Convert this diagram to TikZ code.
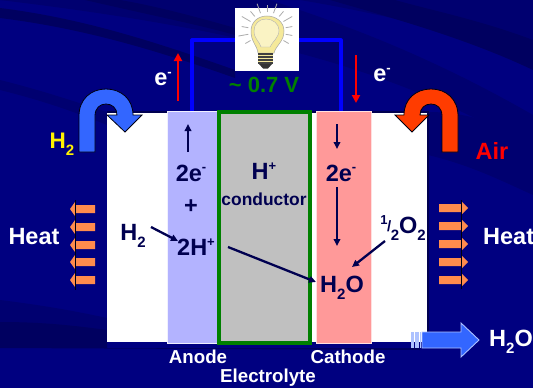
\documentclass[tikz,border=0pt]{standalone}
\usepackage{fontspec}
\setmainfont{Liberation Sans}
\usetikzlibrary{arrows.meta}
\definecolor{bgbase}{HTML}{000080}
\definecolor{bgdark}{HTML}{000070}
\definecolor{bgdeep}{HTML}{000060}
\definecolor{ink}{HTML}{000050}
\definecolor{anodec}{HTML}{B3B3FF}
\definecolor{cathc}{HTML}{FF9999}
\definecolor{electc}{HTML}{C0C0C0}
\definecolor{greenc}{HTML}{008000}
\definecolor{wirec}{HTML}{0000FF}
\definecolor{bluearrow}{HTML}{3366FF}
\definecolor{orangearrow}{HTML}{FF3C00}
\definecolor{heatc}{HTML}{FF8C4D}
\definecolor{bulbc}{HTML}{F5E99A}
\definecolor{bulbin}{HTML}{FAF3C4}
\newcommand{\up}[1]{\raisebox{0.40em}{\fontsize{13}{13}\selectfont #1}}
\newcommand{\dn}[1]{\raisebox{-0.30em}{\fontsize{15}{15}\selectfont #1}}
\tikzset{
  x=1pt,y=-1pt,
  lab/.style={font=\fontsize{#1}{#1}\selectfont\bfseries,inner sep=0pt},
  lab/.default=23.5,
  wht/.style={lab=#1,text=white},
  wht/.default=23.5,
  inkl/.style={lab=#1,text=ink},
  inkl/.default=23.5,
  wire/.style={draw=wirec,line width=3.2pt,line join=round},
  ethin/.style={-{Triangle[length=8pt,width=8pt]},red,line width=2.8pt},
  inkarrow/.style={-{Triangle[length=7pt,width=6.5pt]},ink,line width=2.3pt},
  box/.style={inner sep=0pt,outer sep=0pt,anchor=north west},
}
\newcommand{\heatleft}[1]{\fill[heatc] (95,#1-4) -- (75,#1-4) -- (75,#1-7) -- (70,#1) -- (75,#1+7) -- (75,#1+4) -- (95,#1+4) -- cycle;}
\newcommand{\heatright}[1]{\fill[heatc] (439,#1-4) -- (461,#1-4) -- (461,#1-7) -- (468,#1) -- (461,#1+7) -- (461,#1+4) -- (439,#1+4) -- cycle;}
\begin{document}
\begin{tikzpicture}
\useasboundingbox (0,0) rectangle (533,388);
% background
\fill[bgbase] (0,0) rectangle (533,388);
\fill[bgdark] (0,0) -- (533,0) -- (533,55) .. controls (430,25) and (360,10) .. (300,0) -- cycle;
\fill[bgdark] (0,0) -- (270,0) .. controls (330,20) and (420,50) .. (533,115) -- (533,150) .. controls (400,70) and (250,30) .. (0,0) -- cycle;
\fill[bgdeep] (0,8) .. controls (80,18) and (150,40) .. (235,70) -- (235,78) .. controls (150,48) and (80,28) .. (0,18) -- cycle;
\fill[bgdeep] (85,0) .. controls (150,15) and (200,25) .. (235,35) -- (235,28) .. controls (190,15) and (150,5) .. (120,0) -- cycle;
\fill[bgdark] (0,80) .. controls (40,90) and (70,100) .. (107,112) -- (107,125) .. controls (70,110) and (40,100) .. (0,90) -- cycle;
\fill[bgdeep] (330,0) .. controls (400,20) and (470,40) .. (533,70) -- (533,40) .. controls (480,20) and (430,10) .. (395,0) -- cycle;
\fill[bgdark] (0,300) .. controls (40,305) and (70,310) .. (107,318) -- (107,344) -- (0,344) -- cycle;
\fill[bgdeep] (0,322) .. controls (40,322) and (70,325) .. (107,330) -- (107,348) -- (420,348) -- (420,350) -- (0,348) -- cycle;
\fill[bgdark] (428,155) .. controls (470,165) and (500,180) .. (533,195) -- (533,140) .. controls (500,125) and (470,112) .. (428,112) -- cycle;
% cell
\fill[white] (107,112) rectangle (428,342);
\draw[ink,line width=1.6pt] (107,112) -- (428,112) -- (428,341);
\node[box,fill=anodec,draw=white!80!anodec,line width=.8pt,minimum width=51pt,minimum height=232pt] (anode) at (167,111) {};
\node[box,fill=cathc,draw=white!70!cathc,line width=.8pt,minimum width=55pt,minimum height=232pt] (cathode) at (316,111) {};
\node[box,fill=electc,draw=greenc,line width=3.6pt,minimum width=91pt,minimum height=231pt] (electrolyte) at (219,112) {};
% wire and lamp
\node[box,fill=white,minimum width=64pt,minimum height=63pt] (lamp) at (235,8) {};
\coordinate (wireL) at (192,111);
\coordinate (wireR) at (341,111);
\draw[wire] (wireL) |- (lamp.west |- 0,40);
\draw[wire] (wireR) |- (lamp.east |- 0,40);
% bulb
\foreach \a in {-10,10,...,190}
  \draw[gray!65,line width=.8pt] (267,31) ++({-\a}:19) -- ++({-\a}:{5+mod(abs(\a),40)/6});
\foreach \a in {-30,210}
  \draw[gray!65,line width=.8pt] (267,31) ++({-\a}:19) -- ++({-\a}:6);
\fill[bulbc,draw=black!35,line width=.5pt] (258,53) .. controls (257,45) and (251,42) .. (251,31) .. controls (251,22) and (258,16) .. (267,16) .. controls (276,16) and (284,22) .. (284,31) .. controls (284,42) and (276,45) .. (274,53) -- cycle;
\fill[bulbin,draw=black!30,line width=.4pt] (261,47) .. controls (260,42) and (254,39) .. (254,31) .. controls (254,24) and (259,19) .. (266,19) .. controls (273,19) and (279,24) .. (279,30) .. controls (279,38) and (272,42) .. (270,47) -- cycle;
\fill[black!75] (258,53) rectangle (273,64);
\foreach \y in {55,58,61} \draw[bulbc,line width=.8pt] (258,\y) -- (273,\y);
\fill[black!80] (259,64) -- (272,64) -- (268,68.5) -- (263,68.5) -- cycle;
% electron arrows
\coordinate (eAs) at (178,101); \coordinate (eAe) at (178,53);
\coordinate (eCs) at (356,55); \coordinate (eCe) at (356,103);
\draw[ethin] (eAs) -- (eAe);
\draw[ethin] (eCs) -- (eCe);
\node[wht] (el) at (163,79) {e\up{-}};
\node[wht] (er) at (382,75) {e\up{-}};
\node[lab=22,text=greenc] (volt) at (264,85) {\textasciitilde\ 0.7 V};
% curved arrows
\draw[fill=bluearrow,draw=black!80!ink,line width=.8pt] (79,152) -- (79,116) .. controls (79,99) and (91,89) .. (106,89) .. controls (121,89) and (133,99) .. (133,115) -- (142,115) -- (125,132) -- (107,115) -- (117,115) .. controls (117,108) and (112,104) .. (106,104) .. controls (100,104) and (95,108) .. (95,116) -- (95,152) -- cycle;
\draw[fill=orangearrow,draw=black!80!ink,line width=.8pt] (458,152) -- (458,116) .. controls (458,99) and (446,89) .. (431,89) .. controls (416,89) and (404,99) .. (404,115) -- (395,115) -- (412,132) -- (429,115) -- (420,115) .. controls (420,108) and (425,104) .. (431,104) .. controls (437,104) and (442,108) .. (442,116) -- (442,152) -- cycle;
\node[lab=22.5,text=yellow] (h2in) at (62,144) {H\dn{2}};
\node[lab,text=red] (air) at (492,151) {Air};
% heat
\foreach \y in {209,227,245,262,280} {\heatleft{\y}}
\foreach \y in {208,226,244,262,280} {\heatright{\y}}
\draw[black!80!ink,line width=1pt] (75,200) -- (75,290);
\draw[black!80!ink,line width=1pt] (461,200) -- (461,289);
\node[wht] (heatL) at (34,237) {Heat};
\node[wht,anchor=west] (heatR) at (483,237) {Heat};
% labels in the cell
\coordinate (a1s) at (188,152); \coordinate (a1e) at (188,124);
\coordinate (c1s) at (337,124); \coordinate (c1e) at (337,149);
\draw[inkarrow] (a1s) -- (a1e);
\draw[inkarrow] (c1s) -- (c1e);
\node[inkl] (twoeA) at (191,173) {2e\up{-}};
\node[inkl] (plus) at (191,207) {+};
\node[inkl] (htwo) at (133,236) {H\dn{2}};
\node[inkl] (twoH) at (196,247) {2H\up{+}};
\node[inkl] (Hp) at (264,171) {H\up{+}};
\node[inkl=17.4] (cond) at (264,199) {conductor};
\node[inkl] (twoeC) at (341,173) {2e\up{-}};
\node[inkl] (water) at (342,288) {H\dn{2}O};
\node[inkl] (oxy) at (403,228) {\up{1}\kern-.02em\raisebox{.1em}{\fontsize{15}{15}\selectfont/}\kern-.02em\dn{2}O\dn{2}};
\coordinate (c2s) at (337,187); \coordinate (c2e) at (337,246);
\coordinate (h2s) at (151,227); \coordinate (h2e) at (178,241);
\coordinate (hps) at (228,247); \coordinate (hpe) at (316,282);
\coordinate (oxs) at (385,241); \coordinate (oxe) at (352,267);
\draw[inkarrow] (c2s) -- (c2e);
\draw[inkarrow] (h2s) -- (h2e);
\draw[inkarrow] (hps) -- (hpe);
\draw[inkarrow] (oxs) -- (oxe);
% outflow arrow
\draw[fill=bluearrow,draw=white!60!bluearrow,line width=.9pt] (422,332) -- (461,332) -- (461,323) -- (479,340) -- (461,357) -- (461,348) -- (422,348) -- cycle;
\fill[white!60!bluearrow] (411,332) rectangle (414,348);
\fill[white!60!bluearrow] (415,332) rectangle (419,348);
\draw[white!60!bluearrow,line width=.6pt] (420,332) -- (420,348);
\node[wht,anchor=west] (waterout) at (489,342) {H\dn{2}O};
% captions
\node[wht=18.7] (anodeL) at (198,357) {Anode};
\node[wht=18.7] (cathL) at (348,357) {Cathode};
\node[wht=18.7] (elL) at (268,378) {Electrolyte};
\end{tikzpicture}
\end{document}
